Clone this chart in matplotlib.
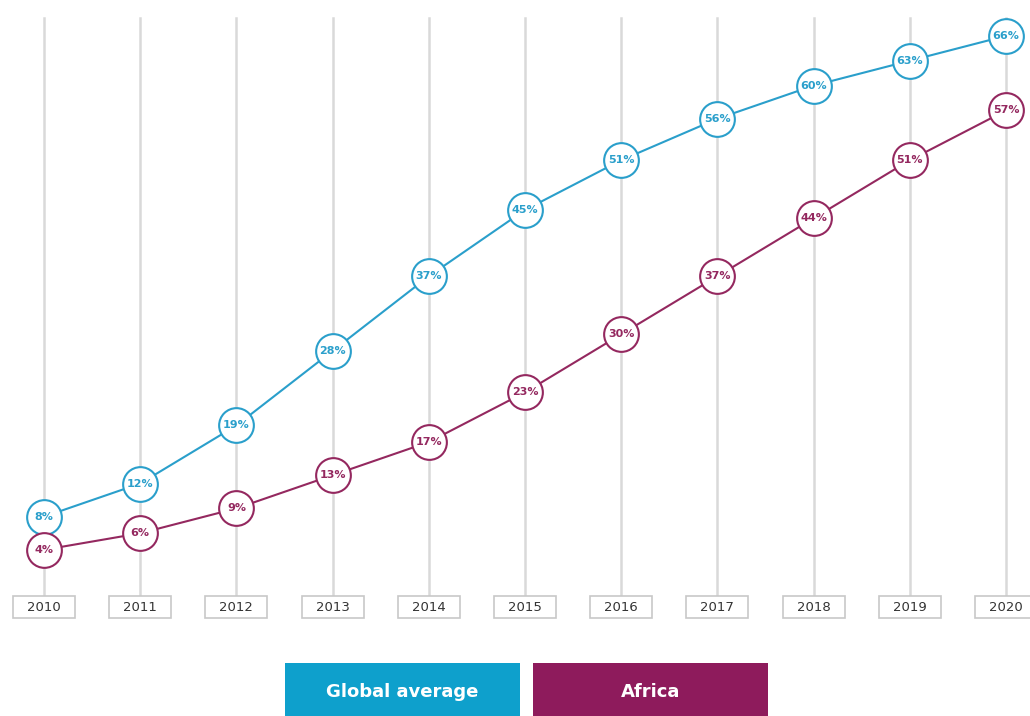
import matplotlib
matplotlib.use("Agg")
import matplotlib.pyplot as plt
from matplotlib.patches import Rectangle

# Data
years = [2010, 2011, 2012, 2013, 2014, 2015, 2016, 2017, 2018, 2019, 2020]
global_avg = [8, 12, 19, 28, 37, 45, 51, 56, 60, 63, 66]
africa = [4, 6, 9, 13, 17, 23, 30, 37, 44, 51, 57]
series_names = ["Global average", "Africa"]

BLUE = "#2a9fcb"
PURPLE = "#94285f"
LEGEND_BLUE = "#0ea0cc"
LEGEND_PURPLE = "#8e1b5c"

W, H = 1030, 716
fig = plt.figure(figsize=(W / 100, H / 100), dpi=100)
ax = fig.add_axes([0, 0, 1, 1])

# pixel mapping: 2010 -> x=44, step 96.2 px; 0% -> y=583 from top, 8.29 px per %
px_year = 96.2
px_pct = 8.29
ax.set_xlim(2010 - 44 / px_year, 2010 + (W - 44) / px_year)
ax.set_ylim(-(H - 583) / px_pct, 583 / px_pct)
ax.axis("off")

# vertical guide lines
for yr in years:
    ax.plot([yr, yr], [-1.5, 68.2], color="#d9d9d9", lw=1.8, zorder=1)

# year boxes
bw, bh = 62 / px_year, 22 / px_pct
for yr in years:
    ax.add_patch(Rectangle((yr - bw / 2, -2.9 - bh / 2), bw, bh, facecolor="white",
                           edgecolor="#c8c8c8", lw=1.2, zorder=2))
    ax.text(yr, -2.9, str(yr), ha="center", va="center", fontsize=9.5,
            color="#333333", zorder=3)

for vals, col in [(global_avg, BLUE), (africa, PURPLE)]:
    ax.plot(years, vals, color=col, lw=1.5, zorder=3, marker="o", markersize=25,
            markerfacecolor="white", markeredgecolor=col, markeredgewidth=1.5)
    for yr, v in zip(years, vals):
        ax.text(yr, v, f"{v}%", ha="center", va="center", fontsize=8,
                fontweight="bold", color=col, zorder=5)

# legend boxes
for (x0, x1), name, col in [((285, 520), series_names[0], LEGEND_BLUE),
                            ((533, 768), series_names[1], LEGEND_PURPLE)]:
    fig.patches.append(Rectangle((x0 / W, 0), (x1 - x0) / W, 53 / H,
                                 transform=fig.transFigure, facecolor=col,
                                 edgecolor="none"))
    fig.text((x0 + x1) / 2 / W, 24 / H, name, ha="center", va="center",
             fontsize=13, color="white", fontweight="bold")

fig.savefig("out.png", dpi=100)
